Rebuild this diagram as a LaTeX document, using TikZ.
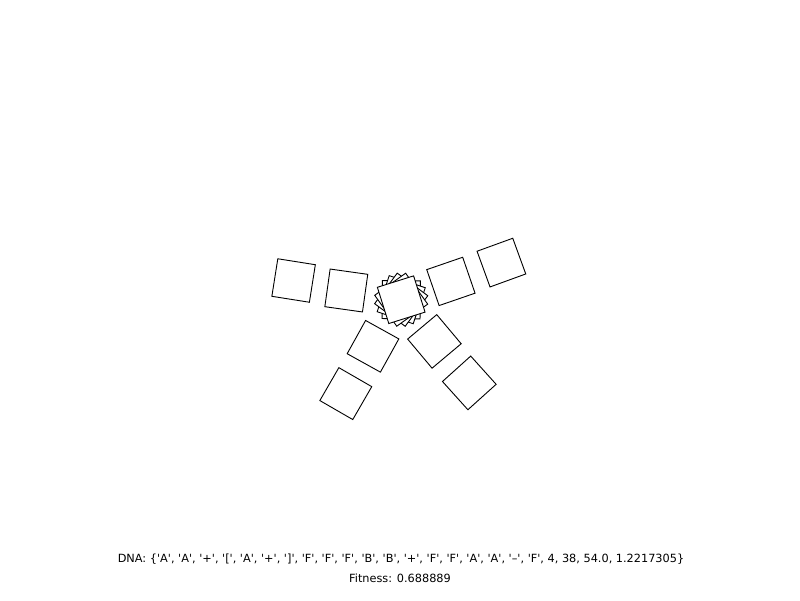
\documentclass[tikz,border=0pt]{standalone}
\usepackage{fontspec}
\newfontfamily\uifont{DejaVu Sans}[Ligatures=TeXOff]
\begin{document}
\begin{tikzpicture}
[x=1pt, y=-1pt, font=\uifont\fontsize{11.3}{13}\selectfont]

\tikzstyle{tile}=[rectangle, draw, fill=white, line width=0.9pt, inner sep=0pt, minimum size=38pt]
\useasboundingbox (0,0) rectangle (800,600);

\node[tile, rotate=-9]	(T1)	at (293.6,280.5)	{};
\node[tile, rotate=-8]	(T2)	at (346.3,290.5)	{};
\node[tile, rotate=19]	(T3)	at (450.9,281.4)	{};
\node[tile, rotate=20]	(T4)	at (501.4,262.6)	{};
\node[tile, rotate=-29]	(T5)	at (373.0,346.3)	{};
\node[tile, rotate=40]	(T6)	at (434.4,341.4)	{};
\node[tile, rotate=-30]	(T7)	at (345.8,393.6)	{};
\node[tile, rotate=42]	(T8)	at (469.3,382.9)	{};

% stacked tiles in the middle
\foreach \r [count=\i] in {89.5,71.5,53.5,35.5}
  \node[tile, rotate=\r]	(C\i)	at (401.2,299.7)	{};
\node[tile, rotate=17.5]	(C0)	at (401.2,299.7)	{};

\node	(dna)	at (401,559)	{DNA: \{'A', 'A', '+', '[', 'A', '+', ']', 'F', 'F', 'F', 'B', 'B', '+', 'F', 'F', 'A', 'A', '–', 'F', 4, 38, 54.0, 1.2217305\}};
\node	(fit)	at (400,578)	{Fitness: 0.688889};
\end{tikzpicture}
\end{document}
